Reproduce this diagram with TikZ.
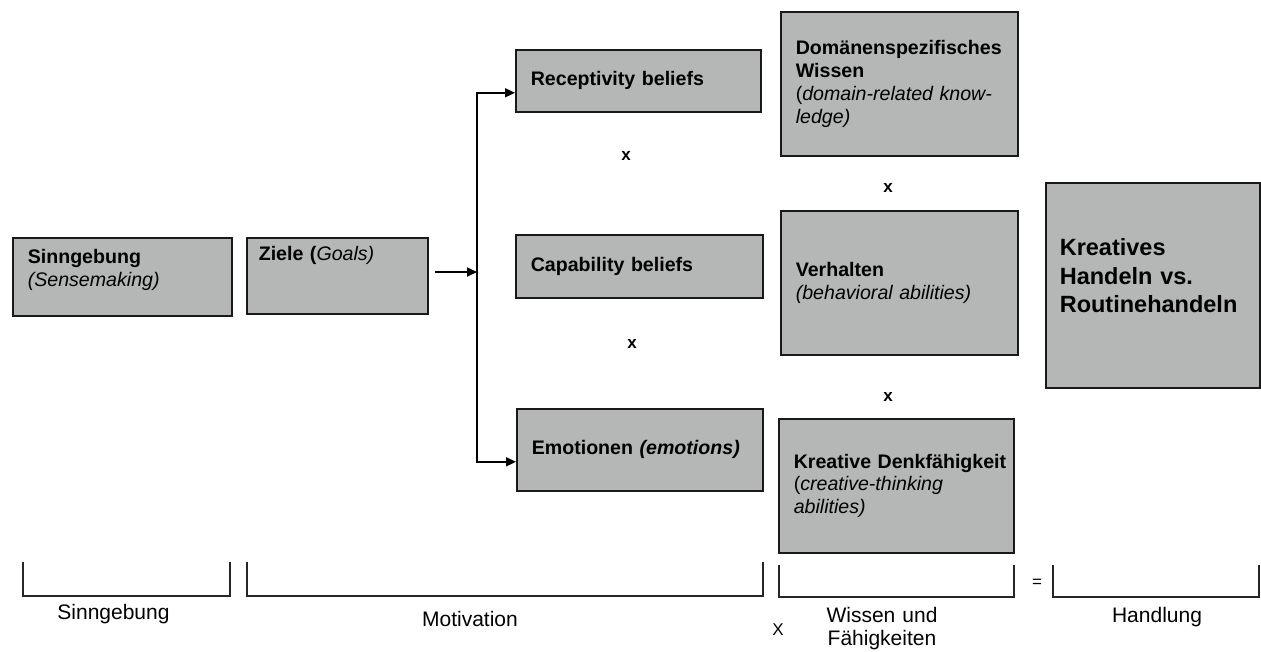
\documentclass[tikz,border=0pt]{standalone}
\usepackage{fontspec}
\setmainfont{Liberation Sans}
\usepackage{xcolor}
\usetikzlibrary{arrows.meta, positioning}
\definecolor{boxgray}{RGB}{180,183,181}
\hyphenpenalty=10000
\exhyphenpenalty=10000
\newcommand{\engl}[1]{{\mdseries\itshape #1}}

\begin{document}
\begin{tikzpicture}[
      x=1pt, y=-1pt,
      box/.style={rectangle, draw=black!90, fill=boxgray, line width=1.6pt, anchor=north west, inner xsep=15pt, inner ysep=0pt, align=left, font=\bfseries\fontsize{19.6}{22.8}\selectfont},
      bigbox/.style={box, inner xsep=14pt, font=\bfseries\fontsize{23.5}{28.5}\selectfont},
      times/.style={font=\bfseries\fontsize{17}{17}\selectfont, inner sep=0pt},
      sign/.style={font=\fontsize{17}{17}\selectfont, inner sep=0pt},
      part_label/.style={font=\fontsize{21}{23}\selectfont, inner sep=0pt, anchor=base},
      bracket/.style={line width=1.2pt, draw=black!85},
      arrow/.style={-{Triangle[length=10pt, width=9pt]}, line width=1.7pt, draw=black}
  ]
  \useasboundingbox (0,0) rectangle (1261,651);

  % Sinngebung and goals
  \node[box, minimum width=219pt, minimum height=78pt, text width=189pt, text depth=41pt] (sinn) at (12,237) {Sinngebung\\\engl{(Sensemaking)}};
  \node[box, inner xsep=12pt, minimum width=181pt, minimum height=76pt, text width=157pt, text depth=44pt] (ziele) at (246,237) {Ziele (\engl{Goals)}};

  % motivation
  \node[box, minimum width=245pt, minimum height=62pt, text width=215pt] (recep) at (515,49) {Receptivity beliefs};
  \node[box, minimum width=247pt, minimum height=63pt, text width=217pt] (capab) at (515,234) {Capability beliefs};
  \node[box, minimum width=246pt, minimum height=82pt, text width=216pt] (emo) at (516,408) {\mbox{Emotionen \textit{(emotions)}}};

  % knowledge and abilities
  \node[box, minimum width=237pt, minimum height=144pt, text width=207pt] (wissen) at (780,11) {Domänenspezifisches\\Wissen\\{\mdseries(}\engl{domain-related know-}\\\engl{ledge)}};
  \node[box, minimum width=237pt, minimum height=144pt, text width=207pt] (verhalten) at (780,210) {Verhalten\\\engl{(behavioral abilities)}};
  \node[box, minimum width=235pt, minimum height=134pt, text width=205pt] (denk) at (778,418) {\mbox{Kreative Denkfähigkeit}\\{\mdseries(}\engl{creative-thinking}\\\engl{abilities)}};

  % action
  \node[bigbox, minimum width=214pt, minimum height=205pt, text width=186pt, text depth=76pt] (handeln) at (1045,182) {Kreatives\\Handeln vs.\\Routinehandeln};

  \node[times] (x1) at (626,156) {x};
  \node[times] (x2) at (632,344) {x};
  \node[times] (x3) at (888,188) {x};
  \node[times] (x4) at (888,397) {x};

  \coordinate (branch) at (477,272);
  \draw[arrow, shorten <=6pt] (ziele.east |- branch) -- (branch);
  \draw[arrow] (branch) |- ([yshift=-12pt]recep.west);
  \draw[arrow] (branch) |- ([yshift=-12pt]emo.west);

  % brackets below
  \draw[bracket] (23,562) |- (230,596) -- (230,562);
  \draw[bracket] (247,562) |- (763,596) -- (763,562);
  \draw[bracket] (779,565) |- (1014,597) -- (1014,565);
  \draw[bracket] (1053,565) |- (1259,597) -- (1259,565);

  \node[part_label] (l_sinn) at (113.5,619) {Sinngebung};
  \node[part_label] (l_motiv) at (470,626) {Motivation};
  \node[part_label, anchor=north, align=center, text width=150pt] (l_wissen) at (882,607) {Wissen und\\Fähigkeiten};
  \node[part_label] (l_handl) at (1157,622) {Handlung};
  \node[sign] (x_bottom) at (778,630) {X};
  \node[sign] (equals) at (1037,583) {=};

\end{tikzpicture}
\end{document}
